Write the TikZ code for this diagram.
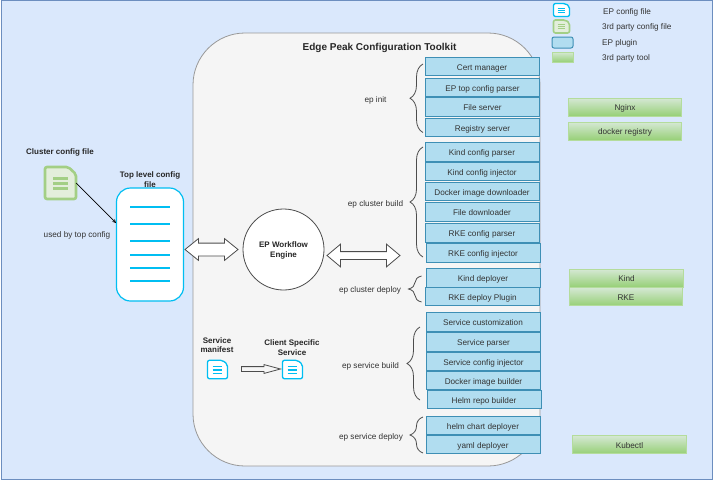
\documentclass[tikz,border=0pt]{standalone}
\usepackage{fontspec}
\setmainfont{Liberation Sans}
\usetikzlibrary{arrows,shapes,positioning,decorations.pathreplacing}
\definecolor{bgblue}{HTML}{DAE8FC}
\definecolor{bgline}{HTML}{6C8EBF}
\definecolor{panelfill}{HTML}{F5F5F5}
\definecolor{panelline}{HTML}{999999}
\definecolor{pluginfill}{HTML}{B1DDF0}
\definecolor{pluginline}{HTML}{3E8FB5}
\definecolor{toolline}{HTML}{B4DC9C}
\definecolor{toolbottom}{HTML}{97D077}
\definecolor{toptop}{HTML}{D5E8D4}
\definecolor{epcyan}{HTML}{00BEF2}
\definecolor{filegreen}{HTML}{A3CF85}
\definecolor{filefill}{HTML}{E3EEDB}
\definecolor{labelgrey}{HTML}{333333}
\tikzset{
    label text/.style={font=\fontsize{8.2}{9.5}\selectfont,text=labelgrey,inner sep=0pt,text height=7pt,text depth=0pt},
    title text/.style={font=\fontsize{8}{9.5}\selectfont\bfseries,text=black!85,inner sep=0pt,align=center},
    epplugin/.style={label text,draw=pluginline,line width=1pt,fill=pluginfill,minimum width=114pt,minimum height=18.5pt},
    thirdtool/.style={label text,draw=toolline,line width=0.8pt,top color=toptop,bottom color=toolbottom,minimum width=113.5pt,minimum height=18pt},
    flowarrow/.style={shape=double arrow,draw=black!70,fill=white,line width=0.8pt,inner xsep=0pt,double arrow head indent=0pt},
    curly/.style={draw=black!70,line width=0.8pt,decorate,decoration={brace,amplitude=13pt,aspect=0.5}},
    epfile/.style={draw=epcyan,fill=white,line width=1.3pt},
    epbars/.style={draw=epcyan,line width=1.1pt},
    thirdfile/.style={draw=filegreen,fill=filefill,line width=2.6pt},
    thirdbars/.style={draw=filegreen,line width=3pt}
}
% name, x, y, width, height, outline style, bars style, bar y values
\newcommand{\fileicon}[8]{
    \node [minimum width=#4pt,minimum height=#5pt,inner sep=0pt] (#1) at (#2,#3) {};
    \begin{scope}[shift={(#2,#3)},x=#4*0.5pt,y=-#5*0.5pt]
        \draw [#6,rounded corners=2pt] (-1,-1) -- (0.5,-1) -- (1,-0.55) -- (1,1) -- (-1,1) -- cycle;
        \foreach \bar in {#8} \draw [#7] (-0.48,\bar) -- (0.48,\bar);
    \end{scope}
}
\begin{document}
\begin{tikzpicture}[x=1pt,y=-1pt,>=stealth]
    \useasboundingbox (0,0) rectangle (713,480);
    \draw [bgline,fill=bgblue,line width=0.8pt] (1,0.5) rectangle (712.5,479);
    \node [draw=panelline,fill=panelfill,line width=0.8pt,rounded corners=52pt,minimum width=347pt,minimum height=433pt] (toolkit) at (366.5,249.5) {};
    \node [title text,font=\fontsize{10}{12}\selectfont\bfseries] (toolkittitle) at (379.5,47.5) {Edge Peak Configuration Toolkit};

    % left side
    \node [title text] (clustertitle) at (60,152.5) {Cluster config file};
    \fileicon{clusterfile}{60.5}{183}{31}{32}{thirdfile}{thirdbars}{-0.3,0.02,0.35}
    \node [label text] (usedby) at (77,234) {used by top config};
    \node [draw=epcyan,fill=white,line width=1.2pt,rounded corners=14pt,minimum width=67pt,minimum height=113pt] (toplevel) at (150,244.5) {};
    \node [title text] (topleveltitle) at (150,179.5) {Top level config\\file};
    \foreach \liney in {207,224,241,255,268,281}
        \draw [epcyan,line width=1.2pt] (130,\liney) -- (170,\liney);
    \coordinate (toplevelin) at (116,223);
    \draw [->,black,line width=0.7pt] (clusterfile.east) -- (toplevelin);

    % workflow engine
    \node [circle,draw=black!70,fill=white,line width=0.8pt,minimum size=81pt,inner sep=0pt] (engine) at (283.5,249.5) {};
    \node [title text] (enginetitle) at (283.5,250.5) {EP Workflow\\Engine};
    \node [flowarrow,minimum height=53pt,inner ysep=6pt,double arrow head extend=4.5pt,double arrow tip angle=78] (toparrow) at (211.5,249.5) {};
    \node [flowarrow,minimum height=73pt,inner ysep=3.5pt,double arrow head extend=7.5pt,double arrow tip angle=80] (pluginarrow) at (363.5,255.5) {};

    % services
    \node [title text] (manifesttitle) at (217,345) {Service\\manifest};
    \node [title text] (clienttitle) at (292,347.5) {Client Specific\\Service};
    \fileicon{manifest}{217.5}{369.5}{20}{18.5}{epfile}{epbars}{-0.3,0.05,0.4}
    \fileicon{client}{292.5}{369.5}{20}{18.5}{epfile}{epbars}{-0.3,0.05,0.4}
    \node [single arrow,draw=black!70,fill=panelfill,line width=0.8pt,inner xsep=0pt,inner ysep=2pt,minimum height=39pt,single arrow head extend=2pt,single arrow tip angle=30,single arrow head indent=0pt] (servicearrow) at (256.5,369) {};

    % ep init
    \node [label text] (epinit) at (375.5,99) {ep init};
    \draw [curly] (423,132.5) -- (423,64);
    \node [epplugin] (certmanager) at (482,66.5) {Cert manager};
    \node [epplugin] (topparser) at (482.5,87.5) {EP top config parser};
    \node [epplugin] (fileserver) at (482.5,107) {File server};
    \node [epplugin] (registry) at (482.5,127.5) {Registry server};

    % ep cluster build
    \node [label text] (clusterbuild) at (375.5,203) {ep cluster build};
    \draw [curly] (423,257) -- (423,147);
    \node [epplugin] (kindparser) at (482,152) {Kind config parser};
    \node [epplugin] (kindinjector) at (482,171.5) {Kind config injector};
    \node [epplugin] (imagedownloader) at (482,191.5) {Docker image downloader};
    \node [epplugin] (filedownloader) at (482,212) {File downloader};
    \node [epplugin] (rkeparser) at (482,233) {RKE config parser};
    \node [epplugin] (rkeinjector) at (483,253) {RKE config injector};

    % ep cluster deploy
    \node [label text] (clusterdeploy) at (370,289) {ep cluster deploy};
    \draw [curly] (421.5,302) -- (421.5,276);
    \node [epplugin] (kinddeployer) at (483,278) {Kind deployer};
    \node [epplugin] (rkedeploy) at (482.5,296.5) {RKE deploy Plugin};

    % ep service build
    \node [label text] (servicebuild) at (370.5,364.5) {ep service build};
    \draw [curly] (420,400) -- (420,327);
    \node [epplugin] (customization) at (483,322) {Service customization};
    \node [epplugin] (serviceparser) at (483.5,342) {Service parser};
    \node [epplugin] (serviceinjector) at (483.5,361.5) {Service config injector};
    \node [epplugin] (imagebuilder) at (483.5,380.5) {Docker image builder};
    \node [epplugin] (helmbuilder) at (484,399.5) {Helm repo builder};

    % ep service deploy
    \node [label text] (servicedeploy) at (371,436) {ep service deploy};
    \draw [curly] (423,453) -- (423,417);
    \node [epplugin] (helmdeployer) at (483,425.5) {helm chart deployer};
    \node [epplugin] (yamldeployer) at (483,444.5) {yaml deployer};

    % 3rd party tools
    \node [thirdtool] (nginx) at (625,107) {Nginx};
    \node [thirdtool] (dockerregistry) at (625,131) {docker registry};
    \node [thirdtool] (kind) at (626.5,278) {Kind};
    \node [thirdtool] (rke) at (626,296.5) {RKE};
    \node [thirdtool] (kubectl) at (629.5,444.5) {Kubectl};

    % legend
    \fileicon{legendep}{561.5}{10}{16}{13}{epfile}{epbars}{-0.3,0.05,0.4}
    \fileicon{legendthird}{561.5}{26.5}{16}{13}{thirdfile,line width=1.6pt}{thirdbars,line width=1.2pt}{-0.25,0.05,0.35}
    \node [epplugin,minimum width=21pt,minimum height=11pt,rounded corners=2pt] (legendplugin) at (562.5,42.5) {};
    \node [thirdtool,minimum width=21pt,minimum height=10pt] (legendtool) at (562.5,57) {};
    \node [label text,anchor=west] (legendeptext) at (603,10.5) {EP config file};
    \node [label text,anchor=west] (legendthirdtext) at (602,26) {3rd party config file};
    \node [label text,anchor=west] (legendplugintext) at (602,42) {EP plugin};
    \node [label text,anchor=west] (legendtooltext) at (602,57) {3rd party tool};
\end{tikzpicture}
\end{document}
